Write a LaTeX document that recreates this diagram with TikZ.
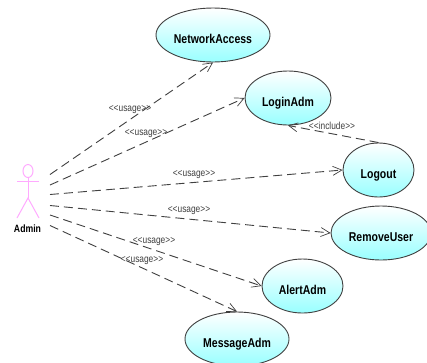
\documentclass[tikz,border=0pt]{standalone}
\usepackage{fontspec}
\setmainfont{Liberation Sans}
\newfontfamily\narrowfont[FakeStretch=0.82,Ligatures=NoCommon]{Liberation Sans}
\usetikzlibrary{arrows.meta,shapes.geometric}
\definecolor{lbl}{HTML}{404040}
\definecolor{edge}{HTML}{404040}
\definecolor{actorpink}{HTML}{FFAAFF}
\newcommand{\uctext}[1]{\raisebox{-8pt}[0pt][0pt]{\narrowfont\bfseries\fontsize{12.8}{14}\selectfont #1}}
\newcommand{\stereotext}[1]{{\narrowfont\fontsize{10.2}{12}\selectfont {<}{<}#1{>}{>}}}
\tikzset{
  usecase/.style={ellipse,draw=edge,line width=0.9pt,inner sep=0pt,top color=white,bottom color=cyan!40,text=black,minimum height=54pt},
  dep/.style={draw=edge,line width=0.9pt,dash pattern=on 9pt off 5pt,-{Straight Barb[length=9pt,width=9pt,line width=0.7pt]}},
  stereo/.style={text=lbl,inner sep=0pt},
  actorline/.style={draw=actorpink,line width=1pt}
}
\begin{document}
\begin{tikzpicture}[x=1pt,y=-1pt]
\useasboundingbox (0,0) rectangle (427,362);
\fill[white] (0,0) rectangle (427,362);
% use cases
\node[usecase,minimum width=114pt] (net) at (213,35) {\uctext{NetworkAccess}};
\node[usecase,minimum width=86pt] (login) at (288,98) {\uctext{LoginAdm}};
\node[usecase,minimum width=71pt] (logout) at (378.5,170) {\uctext{Logout}};
\node[usecase,minimum width=100pt] (remove) at (381,233) {\uctext{RemoveUser}};
\node[usecase,minimum width=81pt] (alert) at (302.5,286) {\uctext{AlertAdm}};
\node[usecase,minimum width=104pt] (msg) at (237,339) {\uctext{MessageAdm}};
% actor
\node[ellipse,actorline,minimum width=10pt,minimum height=13pt,inner sep=0pt] (head) at (28,171) {};
\coordinate (armL) at (17,181);
\coordinate (armR) at (39,181);
\coordinate (hip) at (28,198);
\coordinate (footL) at (17,218);
\coordinate (footR) at (39,218);
\draw[actorline] (head.south) -- (hip);
\draw[actorline] (armL) -- (armR);
\draw[actorline] (footL) -- (hip) -- (footR);
\node[font=\narrowfont\bfseries\fontsize{10.6}{12}\selectfont,inner sep=0pt] (admin) at (27.5,229) {Admin};
% connector origins
\coordinate (p1) at (50,174.5);
\coordinate (p2) at (50,185);
\coordinate (p3) at (50,194.5);
\coordinate (p4) at (50,205.5);
\coordinate (p5) at (50,215);
\coordinate (p6) at (50,225.5);
\draw[dep] (p1) -- (net.south);
\draw[dep] (p2) -- (login.west);
\draw[dep] (p3) -- (logout.west);
\draw[dep] (p4) -- (remove.west);
\draw[dep] (p5) -- (alert.west);
\draw[dep] (p6) -- (msg.north);
\draw[dep] (logout.north) -- (login.south);
% labels
\node[stereo] (u1) at (130,110) {\stereotext{usage}};
\node[stereo] (u2) at (146,134) {\stereotext{usage}};
\node[stereo] (u3) at (194,175) {\stereotext{usage}};
\node[stereo] (u4) at (189,211) {\stereotext{usage}};
\node[stereo] (u5) at (154,242) {\stereotext{usage}};
\node[stereo] (u6) at (142,261) {\stereotext{usage}};
\node[stereo] (inc) at (332,126) {\stereotext{include}};
\end{tikzpicture}
\end{document}
